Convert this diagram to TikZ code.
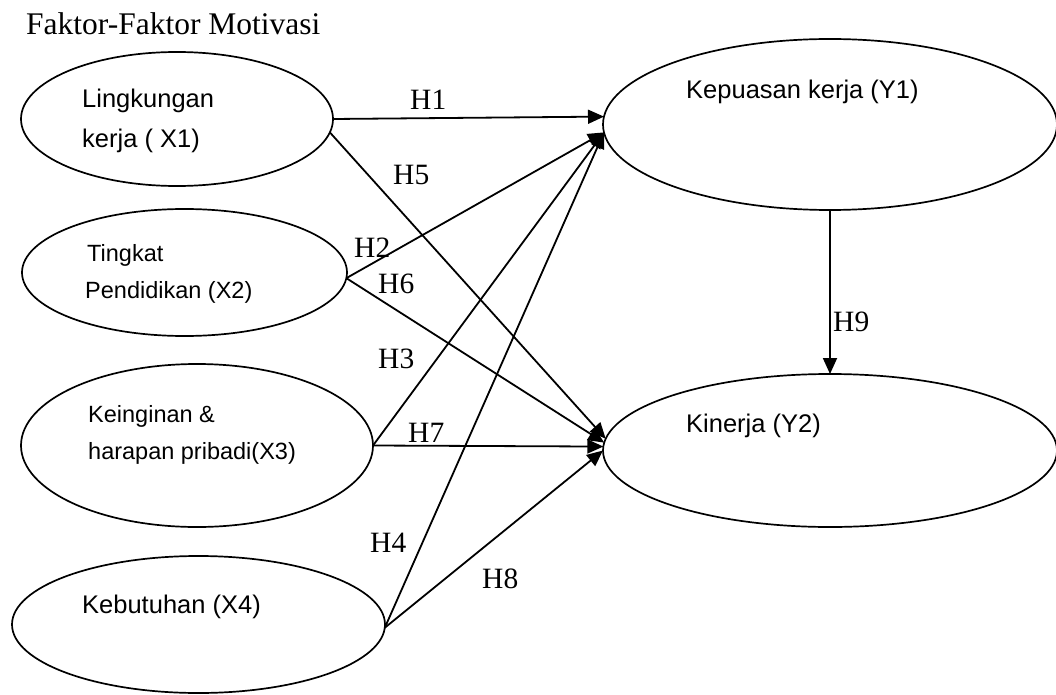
\documentclass[tikz,border=0pt]{standalone}
\usepackage{fontspec}
\setmainfont{Liberation Serif}
\newfontfamily\lsans{Liberation Sans}
\usetikzlibrary{shapes.geometric,arrows.meta}
\tikzset{
  oval/.style={draw, ellipse, line width=1.7pt, inner sep=0pt, outer sep=0pt},
  lbl/.style={anchor=base west, inner sep=0pt, font=\lsans\fontsize{25.5}{30}\selectfont},
  lbls/.style={anchor=base west, inner sep=0pt, font=\lsans\fontsize{23.5}{28}\selectfont},
  hyp/.style={anchor=base west, inner sep=0pt, font=\fontsize{29.5}{34}\selectfont},
  arr/.style={line width=1.8pt, -{Triangle[length=16pt,width=14pt]}},
}
\begin{document}
\begin{tikzpicture}[x=1pt,y=-1pt]
\useasboundingbox (0,0) rectangle (1056,695);
% title
\node[anchor=base west, inner sep=0pt, font=\fontsize{31.5}{36}\selectfont] (title) at (26,35) {Faktor-Faktor Motivasi};
% ellipses
\node[oval, minimum width=312pt, minimum height=134pt] (X1) at (177,119) {};
\node[oval, minimum width=325pt, minimum height=127pt] (X2) at (184.5,272.5) {};
\node[oval, minimum width=352pt, minimum height=163pt] (X3) at (197,445.5) {};
\node[oval, minimum width=373pt, minimum height=137pt] (X4) at (198.5,624.5) {};
\node[oval, minimum width=454pt, minimum height=171pt] (Y1) at (830,124.5) {};
\node[oval, minimum width=454pt, minimum height=153pt] (Y2) at (830,450.5) {};
% ellipse texts
\node[lbl] (t1a) at (82,108) {Lingkungan};
\node[lbl] (t1b) at (82,148) {kerja ( X1)};
\node[lbls] (t2a) at (87,261) {Tingkat};
\node[lbls] (t2b) at (85,298) {Pendidikan (X2)};
\node[lbls] (t3a) at (88,422) {Keinginan \&};
\node[lbls] (t3b) at (88,459) {harapan pribadi(X3)};
\node[lbl] (t4) at (82,613) {Kebutuhan (X4)};
\node[lbl] (ty1) at (686,99) {Kepuasan kerja (Y1)};
\node[lbl] (ty2) at (686,432) {Kinerja (Y2)};
% arrows
\draw[arr] (X1.east) -- (Y1.178.6);
\draw[arr] (X2.-2) -- (Y1.182.4);
\draw[arr] (X3.-0.8) -- (Y1.182.4);
\draw[arr] (X4.-1) -- (Y1.182.4);
\draw[arr] (X1.-5) -- (Y2.177.6);
\draw[arr] (X2.-2) -- (Y2.178.6);
\draw[arr] (X3.-0.8) -- (Y2.179.4);
\draw[arr] (X4.-1) -- (Y2.180.6);
\draw[arr] (Y1.south) -- (Y2.north);
% hypothesis labels
\node[hyp] (h1) at (410,110) {H1};
\node[hyp] (h5) at (393,184) {H5};
\node[hyp] (h2) at (354,257) {H2};
\node[hyp] (h6) at (378,293) {H6};
\node[hyp] (h3) at (378,368) {H3};
\node[hyp] (h7) at (408,442) {H7};
\node[hyp] (h4) at (370,552) {H4};
\node[hyp] (h8) at (482,588) {H8};
\node[hyp] (h9) at (833,331) {H9};
\end{tikzpicture}
\end{document}
